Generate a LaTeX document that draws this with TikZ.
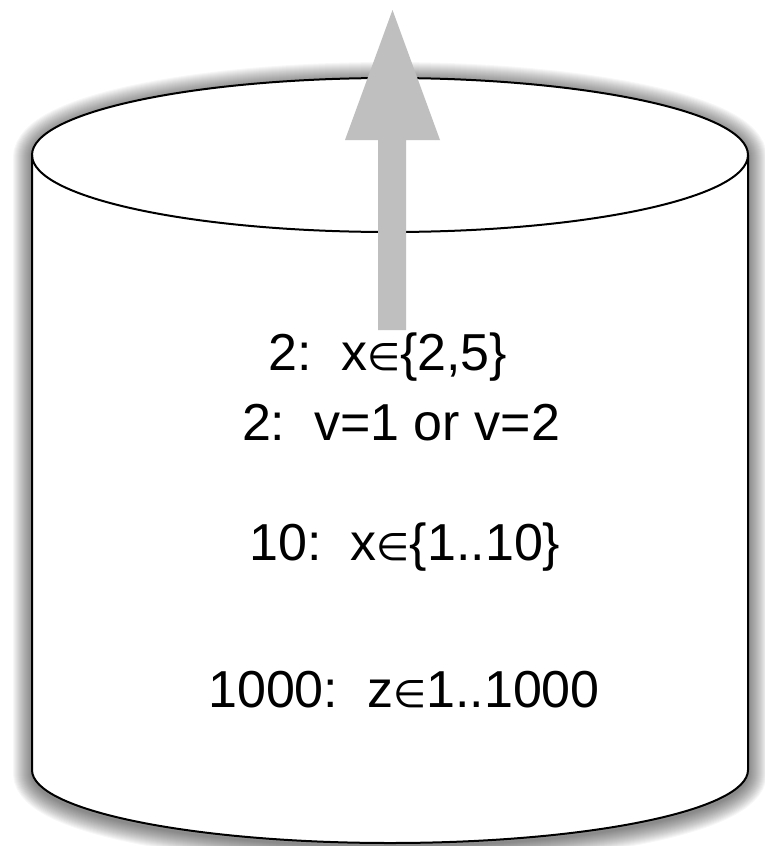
\documentclass[tikz,border=0pt]{standalone}
\usepackage{fontspec}
\setmainfont{Liberation Sans}
\newfontfamily\symfont{DejaVu Sans}
\newcommand{\elem}{{\symfont\fontsize{38}{38}\selectfont ∈}}
\begin{document}
\begin{tikzpicture}[x=1pt,y=-1pt,
  silh/.style={insert path={(32,155) -- (32,770) arc[start angle=180,end angle=0,x radius=358,y radius=73] -- (748,155) arc[start angle=0,end angle=-180,x radius=358,y radius=77] -- cycle}},
  outline/.style={draw=black,line width=2pt},
  label/.style={anchor=base,inner sep=0pt,font=\fontsize{52}{60}\selectfont},
  arrowfill/.style={fill=black!25,draw=none}]
\useasboundingbox (0,0) rectangle (765,846);
\begin{scope}
\clip (0,0) rectangle (765,846);
\foreach \w in {2,4,...,38}
  \draw[line width=\w pt, black, opacity=0.03, shift={(0,3)}, silh];
\end{scope}
% body
\fill[white, silh];
\draw[outline] (32,155) -- (32,770) arc[start angle=180,end angle=0,x radius=358,y radius=73] -- (748,155);
\draw[outline] (390,155) ellipse[x radius=358, y radius=77];
% arrow
\fill[arrowfill] (378,330) -- (378,140) -- (345,140) -- (392.5,10) -- (440,140) -- (406,140) -- (406,330) -- cycle;
% texts
\node[label] (t1) at (388,370) {2:\ \ x\elem\{2,5\}};
\node[label] (t2) at (401,440) {2:\ \ v=1 or v=2};
\node[label] (t3) at (405,560) {10:\ \ x\elem\{1..10\}};
\node[label] (t4) at (404,707) {1000:\ \ z\elem1..1000};
\end{tikzpicture}
\end{document}
